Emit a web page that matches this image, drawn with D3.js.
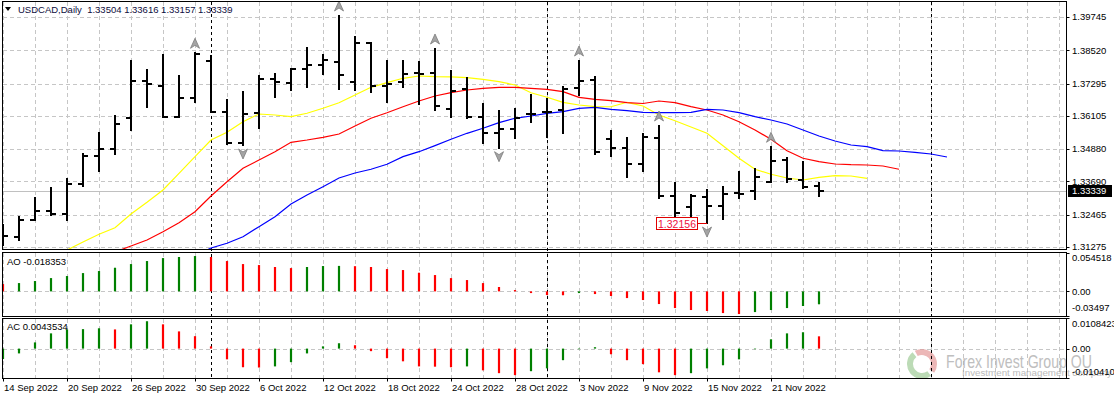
<!DOCTYPE html>
<html>
<head>
<meta charset="utf-8">
<script src="https://cdn.jsdelivr.net/npm/d3@7/dist/d3.min.js"></script>
<style>
  body { margin: 0; background: #fff; }
  svg { display: block; font-family: 'Liberation Sans', Arial, sans-serif; font-size: 9.5px; }
</style>
</head>
<body>
<svg id="chart"></svg>
<script>
// ---- data ----
const opens = [1.31690, 1.31655, 1.32270, 1.32612, 1.32491, 1.33595, 1.34637, 1.34895, 1.36037, 1.37399,
  1.37215, 1.36074, 1.36773, 1.38136, 1.36236, 1.35094, 1.36199, 1.37462, 1.37303, 1.37830,
  1.37977, 1.38099, 1.37351, 1.38777, 1.37204, 1.37362, 1.37672, 1.37672, 1.36346, 1.37083,
  1.36074, 1.35484, 1.35621, 1.36162, 1.36236, 1.36320, 1.37119, 1.37425, 1.35252, 1.34910,
  1.34321, 1.35300, 1.33164, 1.32759, 1.33106, 1.32796, 1.33253, 1.33338, 1.33680, 1.34479,
  1.33742, 1.33504];
const highs = [1.32086, 1.32391, 1.33069, 1.33437, 1.33768, 1.34689, 1.35462, 1.36110, 1.38125, 1.37793,
  1.38346, 1.37572, 1.38408, 1.38309, 1.36689, 1.36972, 1.37572, 1.37646, 1.37830, 1.38592,
  1.38346, 1.39782, 1.38997, 1.38777, 1.38125, 1.38125, 1.38077, 1.38567, 1.37757, 1.37488,
  1.36530, 1.36284, 1.36357, 1.36873, 1.36725, 1.37156, 1.38125, 1.37525, 1.35547, 1.35300,
  1.35426, 1.35731, 1.33621, 1.33190, 1.33374, 1.33474, 1.34026, 1.34137, 1.34947, 1.34564,
  1.34395, 1.33616];
const lows = [1.31349, 1.31533, 1.32270, 1.32454, 1.32270, 1.33533, 1.34085, 1.34689, 1.35584, 1.36420,
  1.36074, 1.36052, 1.36604, 1.36258, 1.35068, 1.35032, 1.35647, 1.36788, 1.37057, 1.37156,
  1.37646, 1.37094, 1.37057, 1.36994, 1.36604, 1.37178, 1.36530, 1.36320, 1.36074, 1.36015,
  1.35094, 1.34932, 1.35278, 1.35890, 1.35315, 1.35484, 1.36873, 1.34700, 1.34638, 1.33864,
  1.34085, 1.33087, 1.32391, 1.32391, 1.32156, 1.32295, 1.33069, 1.33032, 1.33658, 1.33680,
  1.33459, 1.33157];
const closes = [1.31675, 1.32270, 1.32612, 1.32491, 1.33595, 1.34626, 1.34873, 1.35805, 1.37399, 1.37278,
  1.36074, 1.36773, 1.38371, 1.36258, 1.35094, 1.36173, 1.37462, 1.37340, 1.37819, 1.37977,
  1.38162, 1.37609, 1.38799, 1.37204, 1.37267, 1.37646, 1.37660, 1.36479, 1.37031, 1.36074,
  1.35484, 1.35610, 1.36037, 1.36170, 1.36258, 1.37094, 1.37399, 1.34763, 1.34910, 1.34321,
  1.35326, 1.33142, 1.32516, 1.33153, 1.32796, 1.33227, 1.33240, 1.33842, 1.34453, 1.33768,
  1.33496, 1.33339];

// moving average lines (shifted into the future), with the bar index they start at
const lipsStart = 3;
const lips = [1.30944, 1.31165, 1.31460, 1.31743, 1.31986, 1.32491, 1.32921, 1.33374, 1.33989, 1.34601,
  1.35216, 1.35499, 1.35890, 1.36173, 1.36136, 1.36074, 1.36199, 1.36383, 1.36589, 1.36873,
  1.37156, 1.37326, 1.37488, 1.37572, 1.37547, 1.37540, 1.37510, 1.37451, 1.37362, 1.37241,
  1.36957, 1.36788, 1.36604, 1.36504, 1.36442, 1.36440, 1.36604, 1.36468, 1.36136, 1.35926,
  1.35694, 1.35462, 1.35006, 1.34542, 1.34137, 1.33953, 1.33816, 1.33743, 1.33842, 1.33901,
  1.33890, 1.33805];
const teethStart = 7;
const teeth = [1.31091, 1.31312, 1.31533, 1.31839, 1.32170, 1.32575, 1.33153, 1.33680, 1.34173, 1.34479,
  1.34785, 1.35131, 1.35216, 1.35315, 1.35437, 1.35731, 1.36015, 1.36221, 1.36442, 1.36652,
  1.36836, 1.36957, 1.37057, 1.37119, 1.37156, 1.37150, 1.37119, 1.37083, 1.36994, 1.36788,
  1.36714, 1.36663, 1.36589, 1.36560, 1.36652, 1.36589, 1.36442, 1.36320, 1.36136, 1.35890,
  1.35584, 1.35241, 1.34822, 1.34542, 1.34417, 1.34332, 1.34306, 1.34295, 1.34258, 1.34137];
const jawStart = 12;
const jaw = [1.30944, 1.31239, 1.31412, 1.31655, 1.32023, 1.32391, 1.32859, 1.33190, 1.33496, 1.33816,
  1.34000, 1.34137, 1.34321, 1.34601, 1.34785, 1.35006, 1.35241, 1.35462, 1.35647, 1.35853,
  1.36015, 1.36099, 1.36199, 1.36258, 1.36383, 1.36420, 1.36346, 1.36295, 1.36236, 1.36221,
  1.36221, 1.36236, 1.36346, 1.36320, 1.36221, 1.36074, 1.35952, 1.35805, 1.35584, 1.35363,
  1.35179, 1.35032, 1.34969, 1.34822, 1.34811, 1.34763, 1.34700, 1.34590];

const upFractals = [12, 21, 27, 36, 41, 48];
const downFractals = [15, 31, 44];

const aoPrev = 0.0110;
const ao = [0.0104, 0.0118, 0.0147, 0.0189, 0.0218, 0.0260, 0.0289, 0.0336, 0.0388, 0.0431,
  0.0473, 0.0488, 0.0502, 0.0488, 0.0431, 0.0388, 0.0374, 0.0346, 0.0331, 0.0346,
  0.0360, 0.0362, 0.0358, 0.0346, 0.0317, 0.0303, 0.0265, 0.0232, 0.0189, 0.0161,
  0.0118, 0.0062, 0.0019, -0.0024, -0.0052, -0.0055, -0.0024, -0.0038, -0.0066, -0.0095,
  -0.0123, -0.0180, -0.0237, -0.0265, -0.0279, -0.0308, -0.0322, -0.0294, -0.0265, -0.0237,
  -0.0208, -0.018353];
const acPrev = -0.0050;
const ac = [-0.0037, -0.0017, 0.0022, 0.0054, 0.0068, 0.0069, 0.0072, 0.0068, 0.0086, 0.0097,
  0.0086, 0.0061, 0.0044, 0.0008, -0.0038, -0.0066, -0.0067, -0.0063, -0.0048, -0.0017,
  0.0008, 0.0019, 0.0012, -0.0009, -0.0034, -0.0045, -0.0063, -0.0064, -0.0066, -0.0063,
  -0.0077, -0.0087, -0.0094, -0.0080, -0.0070, -0.0041, -0.0002, 0.0005, -0.0020, -0.0041,
  -0.0055, -0.0084, -0.0094, -0.0087, -0.0070, -0.0059, -0.0038, -0.0002, 0.0033, 0.0054,
  0.0058, 0.0043534];

const priceTicks = [1.39745, 1.38520, 1.37295, 1.36105, 1.34880, 1.33690, 1.32465, 1.31275];
const aoTicks = [0.054518, 0, -0.03497];
const aoTickLabels = ['0.054518', '0.00', '-0.03497'];
const acTicks = [0.0108423, 0, -0.010410];
const acTickLabels = ['0.0108423', '0.00', '-0.010410'];
const dateIdx = [0, 4, 8, 12, 16, 20, 24, 28, 32, 36, 40, 44, 48];
const dateLabels = ['14 Sep 2022', '20 Sep 2022', '26 Sep 2022', '30 Sep 2022', '6 Oct 2022', '12 Oct 2022',
  '18 Oct 2022', '24 Oct 2022', '28 Oct 2022', '3 Nov 2022', '9 Nov 2022', '15 Nov 2022', '21 Nov 2022'];
const separators = [13, 34, 58];
const lastPrice = 1.33339;
const lowPrice = 1.32156;
const lowIdx = 44;

// ---- layout ----
const width = 1114;
const height = 399;
const L = 2.5, R = 1066.5;
const mainP = { top: 1.5, bottom: 249.5 };
const aoP = { top: 252.5, bottom: 316.5 };
const acP = { top: 318.5, bottom: 378.5 };

const svg = d3.select('#chart').attr('width', width).attr('height', height);

const x = d3.scaleLinear().domain([0, 1]).range([3, 19]);
const y = d3.scaleLinear().domain([1.31275, 1.39745]).range([247, 17]);
const yAO = d3.scaleLinear().domain([-0.03497, 0.054518]).range([316, 253]);
const yAC = d3.scaleLinear().domain([-0.010410, 0.0108423]).range([378, 318]);

const defs = svg.append('defs');
defs.append('clipPath').attr('id', 'clipMain')
  .append('rect').attr('x', L).attr('y', mainP.top).attr('width', R - L).attr('height', mainP.bottom - mainP.top);

const gridColor = '#c6c6c6';
const grid = svg.append('g').attr('stroke', gridColor).attr('stroke-dasharray', '4,3').attr('shape-rendering', 'crispEdges');

// vertical grid in every panel
const gridIdx = d3.range(0, 67, 2);
[mainP, aoP, acP].forEach((p) => {
  grid.selectAll(null).data(gridIdx).join('line')
    .attr('x1', (d) => Math.round(x(d)) + 0.5).attr('x2', (d) => Math.round(x(d)) + 0.5)
    .attr('y1', p.top).attr('y2', p.bottom);
});
// horizontal grid
grid.selectAll(null).data(priceTicks).join('line')
  .attr('x1', L).attr('x2', R)
  .attr('y1', (d) => Math.round(y(d)) + 0.5).attr('y2', (d) => Math.round(y(d)) + 0.5);
grid.append('line').attr('x1', L).attr('x2', R)
  .attr('y1', Math.round(yAO(0)) + 0.5).attr('y2', Math.round(yAO(0)) + 0.5);
grid.append('line').attr('x1', L).attr('x2', R)
  .attr('y1', Math.round(yAC(0)) + 0.5).attr('y2', Math.round(yAC(0)) + 0.5);

// watermark (under the marks)
const wm = svg.append('g').attr('opacity', 0.7);
const cx = 922, cy = 364;
const arc = d3.arc().innerRadius(9).outerRadius(15);
wm.append('path').attr('transform', `translate(${cx},${cy})`)
  .attr('d', arc({ startAngle: -0.5, endAngle: 2.2 })).attr('fill', '#e49a9a');
wm.append('path').attr('transform', `translate(${cx},${cy})`)
  .attr('d', arc({ startAngle: 2.5, endAngle: 5.6 })).attr('fill', '#a0cc98');
wm.append('text').attr('x', 946).attr('y', 368).attr('font-size', 19)
  .attr('textLength', 146).attr('lengthAdjust', 'spacingAndGlyphs')
  .attr('fill', '#a4a4a4').text('Forex Invest Group OU');
wm.append('text').attr('x', 962).attr('y', 376).attr('font-size', 8.5)
  .attr('textLength', 150).attr('lengthAdjust', 'spacingAndGlyphs')
  .attr('fill', '#a0a0a0').text('Investment management company');

// period separators
svg.append('g').attr('stroke', '#000').attr('stroke-dasharray', '3,3').attr('shape-rendering', 'crispEdges')
  .selectAll('line').data(separators).join('line')
  .attr('x1', (d) => Math.round(x(d)) + 0.5).attr('x2', (d) => Math.round(x(d)) + 0.5)
  .attr('y1', mainP.top).attr('y2', acP.bottom);

// ---- main panel ----
const main = svg.append('g').attr('clip-path', 'url(#clipMain)');

main.append('line').attr('x1', L).attr('x2', R)
  .attr('y1', Math.round(y(lastPrice)) + 0.5).attr('y2', Math.round(y(lastPrice)) + 0.5)
  .attr('stroke', '#c0c0c0');

const maLine = (start) => d3.line().x((d, i) => x(start + i)).y((d) => y(d));
[[lips, lipsStart, '#ffff00'], [teeth, teethStart, '#ff0000'], [jaw, jawStart, '#0000ff']].forEach(([vals, st, col]) => {
  main.append('path').datum(vals).attr('d', maLine(st))
    .attr('fill', 'none').attr('stroke', col).attr('stroke-width', 1.2);
});

const ohlc = opens.map((o, i) => ({ i, o, h: highs[i], l: lows[i], c: closes[i] }));
const bars = main.append('g').attr('stroke', '#000').attr('stroke-width', 2).attr('shape-rendering', 'crispEdges');
const py = (v) => Math.round(y(v));
bars.selectAll('.hl').data(ohlc).join('line').attr('class', 'hl')
  .attr('x1', (d) => x(d.i)).attr('x2', (d) => x(d.i))
  .attr('y1', (d) => py(d.h) - 1).attr('y2', (d) => py(d.l) + 1);
bars.selectAll('.op').data(ohlc).join('line').attr('class', 'op')
  .attr('x1', (d) => x(d.i) - 5).attr('x2', (d) => x(d.i))
  .attr('y1', (d) => py(d.o)).attr('y2', (d) => py(d.o));
bars.selectAll('.cl').data(ohlc).join('line').attr('class', 'cl')
  .attr('x1', (d) => x(d.i)).attr('x2', (d) => x(d.i) + 5)
  .attr('y1', (d) => py(d.c)).attr('y2', (d) => py(d.c));

// fractal arrows
const arrowUp = 'M0,-5 L4.5,5 L0,2 L-4.5,5 Z';
const arrowDn = 'M0,5 L4.5,-5 L0,-2 L-4.5,-5 Z';
main.selectAll('.fu').data(upFractals).join('path').attr('class', 'fu')
  .attr('transform', (d) => `translate(${x(d)},${y(highs[d]) - 10})`)
  .attr('d', arrowUp).attr('fill', '#a4a4a4').attr('stroke', '#7c7c7c').attr('stroke-width', 0.8);
main.selectAll('.fd').data(downFractals).join('path').attr('class', 'fd')
  .attr('transform', (d) => `translate(${x(d)},${y(lows[d]) + 9})`)
  .attr('d', arrowDn).attr('fill', '#a4a4a4').attr('stroke', '#7c7c7c').attr('stroke-width', 0.8);

// low label
const lowY = Math.round(y(lowPrice));
const boxR = x(lowIdx) - 10;
main.append('line').attr('x1', boxR).attr('x2', x(lowIdx)).attr('y1', lowY + 0.5).attr('y2', lowY + 0.5)
  .attr('stroke', '#e00000');
main.append('rect').attr('x', boxR - 41 + 0.5).attr('y', lowY - 6 + 0.5).attr('width', 41).attr('height', 12)
  .attr('fill', '#fff').attr('stroke', '#e00000');
main.append('text').attr('x', boxR - 20).attr('y', lowY + 4.5).attr('text-anchor', 'middle')
  .attr('font-size', 10.5).attr('fill', '#ee1040').text(lowPrice.toFixed(5));

// ---- oscillators ----
const histo = (g, vals, prev, ys) => {
  g.selectAll('line').data(vals).join('line')
    .attr('x1', (d, i) => x(i)).attr('x2', (d, i) => x(i))
    .attr('y1', ys(0)).attr('y2', (d) => ys(d))
    .attr('stroke', (d, i) => (d > (i ? vals[i - 1] : prev) ? '#008000' : '#ff0000'))
    .attr('stroke-width', 2.2);
};
histo(svg.append('g'), ao, aoPrev, yAO);
histo(svg.append('g'), ac, acPrev, yAC);

// ---- frames ----
const frames = svg.append('g').attr('fill', 'none').attr('stroke', '#000').attr('shape-rendering', 'crispEdges');
[mainP, aoP, acP].forEach((p) => {
  frames.append('rect').attr('x', L).attr('y', p.top).attr('width', R - L).attr('height', p.bottom - p.top);
});

// ---- right axis labels ----
const rightAxis = (ticks, labels, ys) => {
  const g = svg.append('g');
  g.selectAll('line').data(ticks).join('line')
    .attr('x1', R).attr('x2', R + 3).attr('y1', (d) => Math.round(ys(d)) + 0.5).attr('y2', (d) => Math.round(ys(d)) + 0.5)
    .attr('stroke', '#000');
  g.selectAll('text').data(ticks).join('text')
    .attr('x', 1072).attr('y', (d) => ys(d)).attr('dy', '0.35em')
    .attr('fill', '#000').text((d, i) => labels[i]);
  return g;
};
rightAxis(priceTicks, priceTicks.map((d) => d.toFixed(5)), y);
const aoAx = rightAxis(aoTicks, aoTickLabels, yAO);
aoAx.selectAll('text').attr('y', (d, i) => [258, 291.5, 308][i]);
const acAx = rightAxis(acTicks, acTickLabels, yAC);
acAx.selectAll('text').attr('y', (d, i) => [324, 349, 372][i]);

// last price box
const lpY = Math.round(y(lastPrice));
svg.append('rect').attr('x', 1068).attr('y', lpY - 6).attr('width', 44).attr('height', 12).attr('fill', '#000');
svg.append('text').attr('x', 1072).attr('y', lpY).attr('dy', '0.35em').attr('fill', '#fff').text(lastPrice.toFixed(5));

// ---- time axis ----
const tAx = svg.append('g');
tAx.selectAll('line').data(dateIdx).join('line')
  .attr('x1', (d) => Math.round(x(d)) + 0.5).attr('x2', (d) => Math.round(x(d)) + 0.5)
  .attr('y1', acP.bottom).attr('y2', acP.bottom + 3).attr('stroke', '#000');
tAx.selectAll('text').data(dateIdx).join('text')
  .attr('x', (d) => x(d) + 1).attr('y', 391).attr('fill', '#000')
  .text((d, i) => dateLabels[i]);

// ---- headers ----
svg.append('path').attr('d', 'M5,7 L11,7 L8,11 Z').attr('fill', '#000');
svg.append('text').attr('x', 18).attr('y', 13).attr('fill', '#0d0d40').style('white-space', 'pre')
  .text('USDCAD,Daily  ' + [opens[51], highs[51], lows[51], closes[51]].map((d) => d.toFixed(5)).join(' '));
svg.append('text').attr('x', 7).attr('y', 265).attr('fill', '#000').text('AO ' + ao[ao.length - 1].toFixed(6));
svg.append('text').attr('x', 7).attr('y', 330).attr('fill', '#000').text('AC ' + ac[ac.length - 1].toFixed(7));
</script>
</body>
</html>
